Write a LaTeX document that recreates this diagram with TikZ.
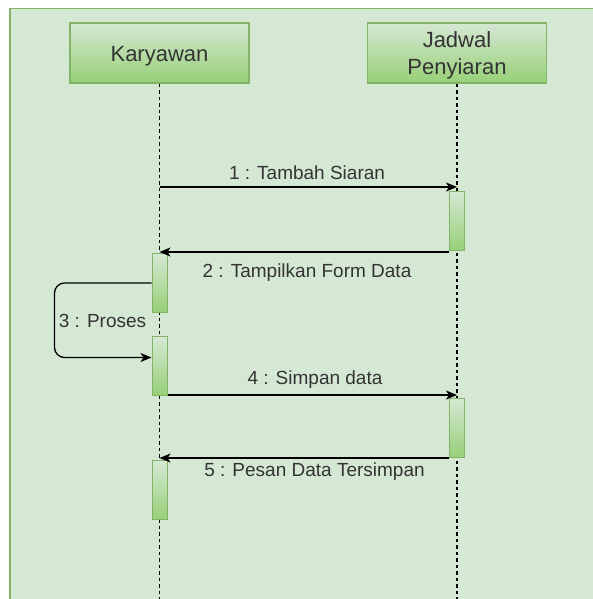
\documentclass[tikz,border=0pt]{standalone}
\usepackage{fontspec}
\setmainfont{Liberation Sans}
\usetikzlibrary{arrows.meta}
\definecolor{bgfill}{HTML}{D5E8D4}
\definecolor{gline}{HTML}{82B366}
\definecolor{gdark}{HTML}{97D077}
\definecolor{txt}{HTML}{333333}
\begin{document}
\begin{tikzpicture}[x=1pt,y=-1pt,
  actor/.style={draw=gline, line width=1.2pt, top color=bgfill, bottom color=gdark,
    minimum width=179pt, minimum height=60pt, inner sep=0pt},
  actortext/.style={font=\fontsize{22}{26.6}\selectfont, text=txt, align=center, inner sep=0pt},
  act/.style={draw=gline, line width=1pt, top color=bgfill, bottom color=gdark,
    minimum width=15pt, inner sep=0pt, anchor=north},
  life/.style={dash pattern=on 3.5pt off 3pt, line width=1.2pt, black},
  msg/.style={line width=1.3pt, black, -{Stealth[length=11pt,width=9pt,inset=3pt]}},
  lbl/.style={font=\fontsize{19}{22}\selectfont, text=txt, inner sep=0pt}
]
\useasboundingbox (0,0) rectangle (593,599);
\begin{scope}
\clip (0,0) rectangle (593,599);
\filldraw[fill=bgfill, draw=gline, line width=1.5pt] (10,8.5) rectangle (640,640);

% actors
\node[actor] (k) at (159.5,53) {};
\node[actor] (j) at (457,53) {};
\node[actortext, anchor=base] (kt) at (159.5,61.7) {Karyawan};
\node[actortext, anchor=north] (jt) at (457,31.7) {Jadwal\\Penyiaran};

% lifelines
\coordinate (kend) at (159.5,599);
\coordinate (jend) at (457,599);
\draw[life] (k.south) -- (kend);
\draw[life] (j.south) -- (jend);

% activations
\node[act, minimum height=59pt] (j1) at (457,191) {};
\node[act, minimum height=59pt] (k1) at (159.5,253) {};
\node[act, minimum height=59pt] (k2) at (159.5,336) {};
\node[act, minimum height=59pt] (j2) at (457,398) {};
\node[act, minimum height=59pt] (k3) at (159.5,460) {};

% messages
\coordinate (m1s) at (159.5,187);
\coordinate (m1e) at (457,187);
\draw[msg] (m1s) -- (m1e);
\draw[msg] ([yshift=-1pt]j1.south west) -- ([yshift=-1pt]j1.south west -| k.south);
\draw[msg, rounded corners=10pt] (k1.west) -- ++(-97,0) |- ([yshift=8.5pt]k2.west);
\draw[msg] ([yshift=1pt]k2.south east) -- ([yshift=1pt]k2.south east -| j.south);
\draw[msg] (j2.south west) -- (j2.south west -| k.south);

% labels
\node[lbl] (l1) at (307,173) {1 : Tambah Siaran};
\node[lbl] (l2) at (307,273) {2 : Tampilkan Form Data};
\node[lbl] (l3) at (102.5,321) {3 : Proses};
\node[lbl] (l4) at (315,380) {4 : Simpan data};
\node[lbl] (l5) at (314.5,472) {5 : Pesan Data Tersimpan};
\end{scope}
\end{tikzpicture}
\end{document}
